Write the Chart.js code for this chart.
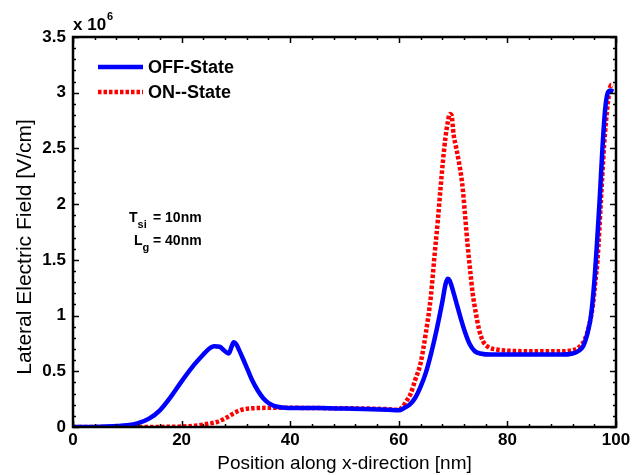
<!DOCTYPE html>
<html>
<head>
<meta charset="utf-8">
<script src="https://cdn.jsdelivr.net/npm/chart.js@4/dist/chart.umd.min.js"></script>
<style>
html,body{margin:0;padding:0;background:#fff;}
#wrap{width:643px;height:475px;position:relative;}
</style>
</head>
<body>
<div id="wrap"><canvas id="c" width="643" height="475"></canvas></div>
<script>
// Values in units of 10^6 V/cm
const offX = [0,5,8,10,12,14,16,18,20,22,24,25,26,27,28,28.7,29.2,29.6,30.1,30.6,31.5,32.2,33,34,35,36,37,38.5,41,45,50,55,58,60,61,62,63,64,65,66,67,68,68.6,69,69.4,70,70.8,71.5,72.2,73,74,75,77,80,85,90,92,93,94,94.8,95.4,96,96.5,97,97.5,98,98.5,99,99.5];
const offY = [0,0.003,0.008,0.015,0.035,0.075,0.15,0.27,0.41,0.54,0.65,0.70,0.725,0.72,0.68,0.66,0.72,0.76,0.74,0.69,0.59,0.51,0.42,0.33,0.26,0.215,0.19,0.175,0.17,0.17,0.165,0.16,0.155,0.15,0.17,0.2,0.26,0.36,0.49,0.67,0.88,1.12,1.28,1.33,1.31,1.22,1.08,0.96,0.85,0.75,0.68,0.66,0.65,0.65,0.65,0.65,0.66,0.68,0.73,0.85,1.0,1.3,1.65,2.05,2.5,2.85,3.0,3.02,3.01];
const onX = [0,10,18,21,23,25,26.5,27.5,28.5,29.5,30.5,31.5,33,36,40,45,50,55,58,59.5,60.5,61.5,62.2,63,64,65,65.9,66.6,67.2,67.7,68.1,68.6,69,69.4,69.7,70.1,70.6,71.1,71.5,71.8,72.2,72.7,73.2,73.6,74.2,74.8,75.5,76.4,78,80,85,90,92,93,94.2,95,95.7,96.2,96.6,97.2,97.8,98.5,99.1,99.5];
const onY = [0,0,0.002,0.006,0.015,0.03,0.045,0.065,0.09,0.12,0.145,0.16,0.168,0.172,0.172,0.17,0.168,0.165,0.16,0.155,0.17,0.24,0.3,0.42,0.57,0.85,1.17,1.55,1.86,2.15,2.37,2.6,2.73,2.81,2.8,2.62,2.5,2.37,2.25,2.13,1.9,1.62,1.38,1.2,1.02,0.87,0.77,0.72,0.695,0.685,0.68,0.68,0.69,0.71,0.78,0.9,1.08,1.3,1.5,2.01,2.52,2.91,3.07,3.06];
const seriesNames = ['OFF-State','ON--State'];
const xTicks = [0,20,40,60,80,100];
const yTicks = [0,0.5,1,1.5,2,2.5,3,3.5];
const yTitle = 'Lateral Electric Field [V/cm]';
const xTitle = 'Position along x-direction [nm]';

const FONT = '"Liberation Sans", Arial, sans-serif';

const toPts = (xs, ys) => xs.map((x, i) => ({x: x, y: ys[i]}));

const framePlugin = {
  id: 'frame',
  afterDatasetsDraw(chart) {
    const {ctx, chartArea: a, scales: {x, y}} = chart;
    ctx.save();
    ctx.strokeStyle = '#000';
    ctx.lineWidth = 1.5;
    ctx.beginPath();
    for (let v = 0; v <= 100 + 1e-9; v += 4) {
      const px = Math.round(x.getPixelForValue(v)) + 0.5;
      const major = Math.abs(v % 20) < 1e-6;
      const L = major ? 6 : 3;
      ctx.moveTo(px, a.bottom); ctx.lineTo(px, a.bottom - L);
      ctx.moveTo(px, a.top); ctx.lineTo(px, a.top + L);
    }
    for (let k = 0; k <= 35; k++) {
      const v = k / 10;
      const py = Math.round(y.getPixelForValue(v)) + 0.5;
      const major = k % 5 === 0;
      const L = major ? 6 : 3;
      ctx.moveTo(a.left, py); ctx.lineTo(a.left + L, py);
      ctx.moveTo(a.right, py); ctx.lineTo(a.right - L, py);
    }
    ctx.stroke();
    ctx.lineWidth = 2.5;
    ctx.strokeRect(a.left, a.top, a.right - a.left, a.bottom - a.top);

    ctx.fillStyle = '#000';
    // y axis title
    ctx.save();
    ctx.translate(25, 247);
    ctx.rotate(-Math.PI / 2);
    ctx.font = '21px ' + FONT;
    ctx.textAlign = 'center';
    ctx.textBaseline = 'middle';
    ctx.fillText(yTitle, 0, 0);
    ctx.restore();

    // exponent label
    ctx.textBaseline = 'alphabetic';
    ctx.textAlign = 'left';
    ctx.font = 'bold 17px ' + FONT;
    ctx.fillText('x 10', 73, 30);
    const w = ctx.measureText('x 10').width;
    ctx.font = 'bold 11px ' + FONT;
    ctx.fillText('6', 73 + w + 1, 20);

    // legend
    chart.data.datasets.forEach((ds, i) => {
      const ly = 67 + i * 25;
      ctx.save();
      ctx.strokeStyle = ds.borderColor;
      ctx.lineWidth = ds.borderWidth;
      ctx.setLineDash(ds.borderDash || []);
      ctx.beginPath();
      ctx.moveTo(98, ly); ctx.lineTo(143, ly);
      ctx.stroke();
      ctx.restore();
      ctx.fillStyle = '#000';
      ctx.font = 'bold 18px ' + FONT;
      ctx.textBaseline = 'middle';
      ctx.fillText(ds.label, 148, ly + 1);
    });

    // annotation
    ctx.textBaseline = 'alphabetic';
    const drawSub = (main, sub, rest, xMain, yBase) => {
      ctx.font = 'bold 14px ' + FONT;
      ctx.fillText(main, xMain, yBase);
      const mw = ctx.measureText(main).width;
      ctx.font = 'bold 11px ' + FONT;
      ctx.fillText(sub, xMain + mw, yBase + 6);
      ctx.font = 'bold 14px ' + FONT;
      ctx.fillText(rest, 153, yBase);
    };
    drawSub('T', 'si', '= 10nm', 129, 222);
    drawSub('L', 'g', '= 40nm', 134, 245);
    ctx.restore();
  }
};

new Chart(document.getElementById('c'), {
  type: 'line',
  data: {
    datasets: [
      {
        label: seriesNames[0],
        data: toPts(offX, offY),
        borderColor: '#0000ff',
        borderWidth: 4.5,
        pointRadius: 0,
        cubicInterpolationMode: 'monotone',
        fill: false
      },
      {
        label: seriesNames[1],
        data: toPts(onX, onY),
        borderColor: '#ff0000',
        borderWidth: 4.5,
        borderDash: [3.5, 2],
        pointRadius: 0,
        cubicInterpolationMode: 'monotone',
        fill: false
      }
    ]
  },
  options: {
    responsive: false,
    animation: false,
    events: [],
    layout: {padding: {top: 37, right: 27, bottom: 0, left: 0}},
    plugins: {legend: {display: false}, tooltip: {enabled: false}},
    scales: {
      x: {
        type: 'linear',
        min: 0, max: 100,
        afterBuildTicks: s => { s.ticks = xTicks.map(v => ({value: v})); },
        afterFit: s => { s.height = 48; },
        grid: {display: false, drawTicks: false},
        border: {display: false},
        ticks: {color: '#000', font: {family: FONT, size: 17, weight: 'bold'}, padding: 3, maxRotation: 0},
        title: {display: true, text: xTitle, color: '#000', font: {family: FONT, size: 19, weight: 'normal'}, padding: {top: 2, bottom: 0}}
      },
      y: {
        type: 'linear',
        min: 0, max: 3.5,
        afterBuildTicks: s => { s.ticks = yTicks.map(v => ({value: v})); },
        afterFit: s => { s.width = 73; },
        grid: {display: false, drawTicks: false},
        border: {display: false},
        ticks: {color: '#000', font: {family: FONT, size: 17, weight: 'bold'}, padding: 7, callback: v => String(v)},
        title: {display: false}
      }
    }
  },
  plugins: [framePlugin]
});
</script>
</body>
</html>
